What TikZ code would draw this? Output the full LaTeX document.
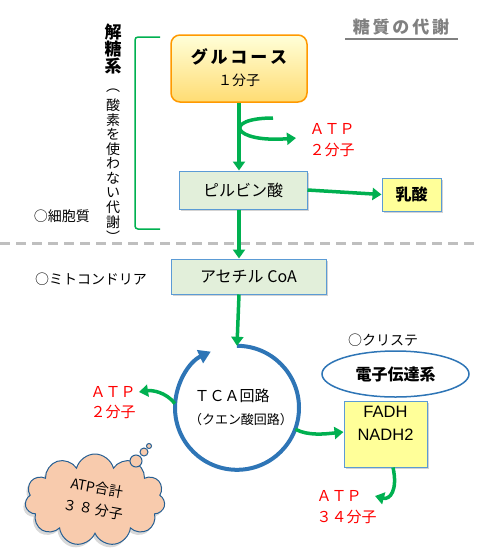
\documentclass[tikz,border=0pt]{standalone}
\usepackage{fontspec}
\setmainfont{Noto Sans CJK JP}
\newfontfamily\arialfont{Liberation Sans}
\usetikzlibrary{arrows.meta,shapes.geometric,shapes.symbols,shadows}
\definecolor{grn}{HTML}{00B050}
\definecolor{tcablue}{HTML}{2E75B6}
\definecolor{boxline}{HTML}{5B9BD5}
\definecolor{paleg}{HTML}{E2EFDA}
\definecolor{paley}{HTML}{FFFF99}
\definecolor{peach}{HTML}{F8CBAD}
\newcommand{\fs}[1]{\fontsize{#1}{#1}\selectfont}
\begin{document}
\begin{tikzpicture}[x=1pt,y=-1pt,
  box/.style={draw=boxline,line width=1pt,inner sep=0pt,drop shadow={shadow xshift=2pt,shadow yshift=-2pt,opacity=.35}},
  flow/.style={grn,line width=3.5pt,-{Triangle[length=9pt,width=12pt]}},
  atp/.style={red,anchor=west,font=\fs{15}},
  note/.style={font=\fs{14}}]
\useasboundingbox (0,0) rectangle (478,558);
% title
\node[gray,font=\bfseries\fs{17}] (title) at (401,27) {糖\,質\,の\,代\,謝};
\draw[gray,line width=1.2pt] (345,39) -- (458,39);
% vertical label
\foreach \c [count=\i] in {解,糖,系}{\node[font=\bfseries\fs{17}] (v\i) at (113,15+17*\i) {\c};}
\foreach \c [count=\i] in {︵,酸,素,を,使,わ,な,い,代,謝,︶}{\node[font=\fs{14}] (w\i) at (113,76+14.6*\i) {\c};}
\draw[grn,line width=1.5pt,rounded corners=3pt] (160,37) -- (135,37) -- (135,229) -- (160,229);
\node[note] (cyto) at (62,216) {○細胞質};
\draw[gray!50,line width=3pt,dash pattern=on 10pt off 6pt] (0,243) -- (478,243);
\node[note] (mito) at (91,279) {○ミトコンドリア};
% boxes
\node[draw=orange!80!yellow,line width=1.5pt,rounded corners=9pt,top color=yellow!15,bottom color=yellow!50!orange!55,
  minimum width=136,minimum height=67,inner sep=0pt] (glu) at (239,68.5) {};
\node[font=\bfseries\fs{17}] (glut) at (239,57) {グ\,ル\,コ\,ー\,ス};
\node[font=\fs{14}] (glun) at (239,80) {１分子};
\node[box,fill=paleg,minimum width=128,minimum height=38,font=\fs{16}] (pyr) at (243,190) {ピルビン酸};
\node[box,fill=paley,minimum width=59,minimum height=33,font=\bfseries\fs{16}] (lac) at (411.5,194.5) {乳酸};
\node[box,fill=paleg,minimum width=155,minimum height=35,font=\fs{16}] (acet) at (248.5,276.5) {アセチル CoA};
\node[box,fill=paley,minimum width=83,minimum height=66,align=center,font=\arialfont\fs{16.5},
  text height=12pt] (fadh) at (385.5,434) {FADH\\[6pt]NADH2};
\node[draw=tcablue,line width=1.5pt,ellipse,minimum width=147,minimum height=46,font=\bfseries\fs{16}] (etc) at (395.5,374) {電子伝達系};
\node[note] (cris) at (383,340) {○クリステ};
% TCA cycle
\node[circle,minimum size=124,inner sep=0pt] (tca) at (237,408) {};
\draw[tcablue,line width=4pt,-{Triangle[length=12pt,width=14pt]}] (tca.north) arc[start angle=-90,end angle=245,radius=62];
\node[font=\fs{15}] (tcat) at (232,396) {ＴＣＡ回路};
\node[font=\fs{13}] (tcas) at (241,420) {（クエン酸回路）};
% ATP labels
\node[atp] (atp1) at (306,129) {ＡＴＰ}; \node[atp] (atp1n) at (306,150) {２分子};
\node[atp] (atp2) at (87,392) {ＡＴＰ}; \node[atp] (atp2n) at (87,412) {２分子};
\node[atp] (atp3) at (313,496) {ＡＴＰ}; \node[atp] (atp3n) at (313,517) {３４分子};
% arrows
\draw[flow] (glu.south) -- (glu.south |- pyr.north);
\draw[flow] (glu.south |- pyr.south) -- (glu.south |- acet.north);
\draw[flow] (glu.south |- acet.south) -- (tca.north);
\draw[flow] (pyr.east) -- (lac.west);
\coordinate (g1) at (273,118);
\draw[flow] (g1) .. controls (222,118) and (232,143) .. ([xshift=-10pt]atp1.south west);
\draw[flow] (tca.176) .. controls (166,392) and (152,390) .. (atp2.east);
\draw[flow] (tca.-20) .. controls (308,436) and (325,434) .. (fadh.west |- 0,432);
\draw[flow] (fadh.south -| 393,0) .. controls (398,490) and (390,500) .. ([xshift=10pt]atp3.east);
% total
\node[cloud,cloud puffs=11,aspect=1.5,draw=tcablue!80!black,line width=1pt,fill=peach,minimum width=140,minimum height=92,
  inner sep=0pt,font=\fs{14},drop shadow={shadow xshift=-2pt,shadow yshift=-3pt,opacity=.3}] (tot) at (95,500)
  {\rotatebox{-10}{\begin{tabular}{@{}c@{}}ATP合計\\[6pt]３\,８\,分子\end{tabular}}};
\foreach \r/\p/\q in {6/136/461,4/144/452,2.5/149/446}{\draw[tcablue!80!black,line width=1pt,fill=peach] (\p,\q) circle[radius=\r];}
\end{tikzpicture}
\end{document}
